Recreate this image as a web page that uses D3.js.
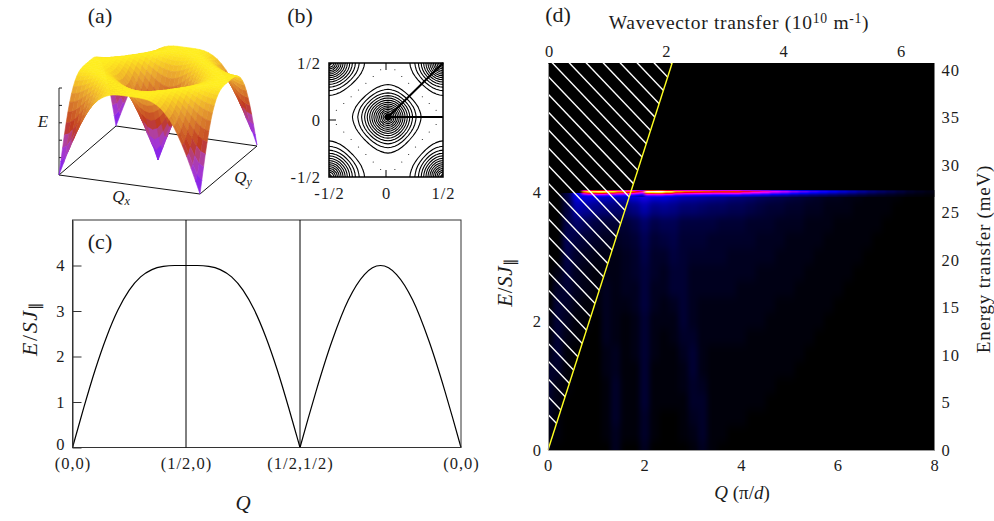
<!DOCTYPE html>
<html>
<head>
<meta charset="utf-8">
<script src="https://cdn.jsdelivr.net/npm/d3@7"></script>
<style>
  html, body { margin: 0; padding: 0; background: #fff; }
  svg { display: block; }
  text { font-family: "Liberation Serif", serif; fill: #1c1c1c; }
  .tick text { font-size: 16.5px; letter-spacing: 1px; font-family: "Liberation Serif", serif; fill: #1c1c1c; }
</style>
</head>
<body>
<svg id="fig" width="994" height="521"></svg>
<script>
// ---- Data ----
// (c) dispersion along the path; t is the position along each leg, 0..1
const pathTicks = [0, 1, 2, 3];
const pathLabels = ['(0,0)', '(1/2,0)', '(1/2,1/2)', '(0,0)'];
const legT = [0, 0.05, 0.1, 0.2, 0.3, 0.4, 0.5, 0.6, 0.7, 0.8, 0.9, 1];
const leg1E = [0, 0.44, 0.88, 1.71, 2.43, 3.02, 3.46, 3.75, 3.91, 3.98, 4.0, 4.0];
const leg2E = [4.0, 4.0, 3.98, 3.91, 3.75, 3.46, 3.02, 2.43, 1.71, 0.88, 0.44, 0];
const leg2T = [0, 0.1, 0.2, 0.3, 0.4, 0.5, 0.6, 0.7, 0.8, 0.9, 0.95, 1];
const leg3T = [0, 0.05, 0.1, 0.2, 0.3, 0.4, 0.45, 0.5, 0.55, 0.6, 0.7, 0.8, 0.9, 0.95, 1];
const leg3E = [0, 0.63, 1.24, 2.35, 3.24, 3.8, 3.95, 4.0, 3.95, 3.8, 3.24, 2.35, 1.24, 0.63, 0];
const cEnergyTicks = [0, 1, 2, 3, 4];

// (a), (b) energy over one quadrant of the zone, mirrored for the other three
const quadrantE = [
  [0,.55,1.09,1.61,2.08,2.51,2.89,3.21,3.46,3.66,3.80,3.90,3.96,3.99,4,4,4],
  [.55,.78,1.22,1.69,2.15,2.56,2.93,3.24,3.49,3.68,3.82,3.91,3.96,3.99,4,4,4],
  [1.09,1.22,1.53,1.92,2.31,2.69,3.03,3.32,3.55,3.73,3.85,3.93,3.98,4,4,4,4],
  [1.61,1.69,1.92,2.22,2.56,2.88,3.18,3.43,3.64,3.79,3.90,3.96,3.99,4,4,3.99,3.99],
  [2.08,2.15,2.31,2.56,2.83,3.10,3.35,3.57,3.74,3.87,3.95,3.99,4,3.99,3.98,3.96,3.96],
  [2.51,2.56,2.69,2.88,3.10,3.33,3.53,3.71,3.84,3.93,3.99,4,3.99,3.96,3.93,3.91,3.90],
  [2.89,2.93,3.03,3.18,3.35,3.53,3.70,3.83,3.93,3.98,4,3.99,3.95,3.90,3.85,3.82,3.80],
  [3.21,3.24,3.32,3.43,3.57,3.71,3.83,3.92,3.98,4,3.98,3.93,3.87,3.79,3.73,3.68,3.66],
  [3.46,3.49,3.55,3.64,3.74,3.84,3.93,3.98,4,3.98,3.93,3.84,3.74,3.64,3.55,3.49,3.46],
  [3.66,3.68,3.73,3.79,3.87,3.93,3.98,4,3.98,3.92,3.83,3.71,3.57,3.43,3.32,3.24,3.21],
  [3.80,3.82,3.85,3.90,3.95,3.99,4,3.98,3.93,3.83,3.70,3.53,3.35,3.18,3.03,2.93,2.89],
  [3.90,3.91,3.93,3.96,3.99,4,3.99,3.93,3.84,3.71,3.53,3.33,3.10,2.88,2.69,2.56,2.51],
  [3.96,3.96,3.98,3.99,4,3.99,3.95,3.87,3.74,3.57,3.35,3.10,2.83,2.56,2.31,2.15,2.08],
  [3.99,3.99,4,4,3.99,3.96,3.90,3.79,3.64,3.43,3.18,2.88,2.56,2.22,1.92,1.69,1.61],
  [4,4,4,4,3.98,3.93,3.85,3.73,3.55,3.32,3.03,2.69,2.31,1.92,1.53,1.22,1.09],
  [4,4,4,3.99,3.96,3.91,3.82,3.68,3.49,3.24,2.93,2.56,2.15,1.69,1.22,.78,.55],
  [4,4,4,3.99,3.96,3.90,3.80,3.66,3.46,3.21,2.89,2.51,2.08,1.61,1.09,.55,0]
];
const contourLevels = [0.25,0.5,0.75,1,1.25,1.5,1.75,2,2.25,2.5,2.75,3,3.25,3.5,3.75];

// (b) axis
const bTicks = [-0.5, 0, 0.5];
const bTickLabels = ['-1/2', '0', '1/2'];

// (d) scattered intensity, 25 = full blue; columns every 0.2 in Q, rows every 0.25 in E.
// Columns left off the end of a row are zero.
const mapQ = d3.range(41).map(i => i * 0.2);
const mapE = [4, 3.75, 3.5, 3.25, 3, 2.75, 2.5, 2.25, 2, 1.75, 1.5, 1.25, 1, 0.75, 0.5, 0.25, 0];
const mapI = [
  [0,0,7,25,25,24,23,22,22,25,28,25,25,22,20,19,18,17,16,14,13,12,10,9,8,7,6,5,4,3,3,2,2,1,1,1,1],
  [0,0,6,17,15,13,12,11,11,13,17,13,14,13,11,11,10,9,9,8,8,7,6,5,5,4,4,3,3,2,2,2,1,1,1,1],
  [0,0,7,10,8,6,5,5,5,7,10,7,8,8,6,6,6,6,5,5,5,4,4,4,3,3,3,2,2,2,1,1,1,1,1],
  [0,0,8,6,5,4,3,3,4,5,8,5,6,7,5,5,5,4,4,4,4,4,3,3,3,2,2,2,2,1,1,1,1,1],
  [0,0,7,4,3,2,2,2,3,4,7,4,4,6,5,4,4,4,4,3,3,3,3,3,2,2,2,2,1,1,1,1,1],
  [0,2,6,3,2,1,2,2,3,4,6,4,3,5,5,3,3,3,3,3,3,3,2,2,2,2,2,1,1,1,1,1],
  [0,4,5,3,2,1,3,2,3,3,6,3,3,5,5,3,3,3,3,3,2,2,2,2,2,2,1,1,1,1,1],
  [0,5,4,2,1,1,3,2,2,3,6,3,2,3,5,3,2,2,2,2,2,2,2,2,1,1,1,1,1,1],
  [1,5,3,1,1,0,3,2,1,2,5,2,2,2,5,3,2,2,2,2,2,2,2,1,1,1,1,1,1],
  [1,5,2,1,0,0,3,2,1,2,5,2,1,2,4,4,2,2,2,2,2,1,1,1,1,1,1,1],
  [2,5,1,0,0,0,2,3,1,2,5,2,1,1,3,5,2,1,1,1,1,1,1,1,1,1,1],
  [4,4,1,0,0,0,2,3,1,1,5,1,1,1,2,5,2,1,1,1,1,1,1,1,1,1],
  [5,2,1,0,0,0,1,4,1,1,5,1,1,1,2,4,3,1,1,1,1,1,1,1],
  [4,2,0,0,0,0,1,4,1,1,5,1,1,1,1,4,4,1,1,1,1,1,1],
  [3,1,0,0,0,0,1,4,1,1,4,1,0,0,1,3,4,1,1,1,1],
  [2,1,0,0,0,0,1,3,1,1,4,1,0,0,1,2,4,1,1],
  [1,0,0,0,0,0,0,3,0,0,3,0,0,0,0,1,3,1]
];
// flat magnon band at E = 4
const bandQ = [0.7,0.8,1,1.2,1.4,1.6,1.8,1.9,2,2.2,2.4,2.6,2.8,3,3.2,3.4,3.6,3.8,4,4.2,4.4,4.6,4.8,5,5.2,5.4,5.6,5.8,6,6.2,6.4,6.6,6.8,7,7.2,7.4,7.6,7.8,8];
const bandI = [78,88,92,86,78,74,66,58,98,100,90,78,74,72,70,68,68,68,62,58,54,48,44,38,34,30,27,24,21,18,15,12,10,8,6,4,3,2,1];
const bandE = [4.03, 4.015, 4, 3.985, 3.97, 3.955, 3.94];
const bandFalloff = [0.7, 1, 0.88, 0.7, 0.52, 0.38, 0.28];
// kinematic limit and hatching
const limitQ = [0, 2.57];
const limitE = [0, 6];
const hatchE = d3.range(29).map(i => 8.28 - i * 0.276);
const hatchSlope = -0.786;

const qTicksD = [0, 2, 4, 6, 8];
const eTicksD = [0, 2, 4];
const wavevectorTicks = [0, 2, 4, 6];
const meVTicks = [0, 5, 10, 15, 20, 25, 30, 35, 40];

// ---- Helpers ----
const svg = d3.select('#fig');
const defs = svg.append('defs');

function label(x, y, parts, size, rotate, spacing) {
  // parts: [text, italic, baselineShift, sizeFactor]
  const t = svg.append('text')
    .attr('text-anchor', 'middle')
    .attr('font-size', size)
    .attr('letter-spacing', spacing || 0)
    .attr('transform', `translate(${x},${y})` + (rotate ? ` rotate(${rotate})` : ''));
  parts.forEach(p => {
    t.append('tspan')
      .attr('font-style', p[1] ? 'italic' : 'normal')
      .attr('dy', p[2] || 0)
      .attr('font-size', p[3] ? size * p[3] : size)
      .text(p[0]);
  });
  return t;
}

function styleAxis(g, color) {
  g.select('.domain').attr('stroke', color || '#555');
  g.selectAll('.tick line').attr('stroke', color || '#555');
}

// ---- (a) surface ----
const fullE = d3.range(33).map(i => d3.range(33).map(j =>
  quadrantE[Math.abs(i - 16)][Math.abs(j - 16)]));

const base = {A: [59, 175], B: [200, 194], C: [257, 146], D: [116, 126]};
const heightPx = d3.scaleLinear().domain([0, 4]).range([0, 88]);
const uScale = d3.scaleLinear().domain([0, 32]).range([0, 1]);

function project(i, j, e) {
  const u = uScale(i), v = uScale(j);
  return [
    base.A[0] + u * (base.B[0] - base.A[0]) + v * (base.D[0] - base.A[0]),
    base.A[1] + u * (base.B[1] - base.A[1]) + v * (base.D[1] - base.A[1]) - heightPx(e)
  ];
}

const surfaceColor = d3.scaleLinear()
  .domain([0, 0.6, 1.4, 2, 2.7, 3.3, 3.6, 3.85, 4])
  .range(['#5a00c8', '#9a30f0', '#b040a0', '#c03a20', '#d4702a', '#e8a230', '#f4c028', '#fcdc22', '#ffee20']);

const gA = svg.append('g');
const baseLine = d3.line();
gA.append('path')
  .attr('d', baseLine([base.A, base.B, base.C, base.D]) + 'Z')
  .attr('fill', 'none').attr('stroke', '#111').attr('stroke-width', 1);

// E axis with its ticks
const eAxisA = d3.scaleLinear().domain([0, 5]).range([175, 88]);
gA.append('line').attr('x1', 59).attr('x2', 59).attr('y1', eAxisA(0)).attr('y2', eAxisA(5)).attr('stroke', '#222');
gA.selectAll('line.etick').data(d3.range(1, 6)).join('line')
  .attr('class', 'etick')
  .attr('x1', 59).attr('x2', 62)
  .attr('y1', d => eAxisA(d)).attr('y2', d => eAxisA(d)).attr('stroke', '#222');

const cells = [];
for (let i = 0; i < 32; i++) {
  for (let j = 0; j < 32; j++) {
    const e = (fullE[i][j] + fullE[i + 1][j] + fullE[i][j + 1] + fullE[i + 1][j + 1]) / 4;
    const depth = project(i + 0.5, j + 0.5, 0)[1];
    cells.push({i, j, e, depth});
  }
}
cells.sort((a, b) => a.depth - b.depth);

gA.selectAll('path.cell').data(cells).join('path')
  .attr('class', 'cell')
  .attr('d', d => baseLine([
    project(d.i, d.j, fullE[d.i][d.j]),
    project(d.i + 1, d.j, fullE[d.i + 1][d.j]),
    project(d.i + 1, d.j + 1, fullE[d.i + 1][d.j + 1]),
    project(d.i, d.j + 1, fullE[d.i][d.j + 1])
  ]) + 'Z')
  .attr('fill', d => surfaceColor(d.e))
  .attr('stroke', d => surfaceColor(d.e))
  .attr('stroke-width', 0.6);

label(100, 23, [['(a)']], 22);
label(43, 127, [['E', true]], 17);
label(121, 202, [['Q', true], ['x', true, 3, 0.72]], 17);
label(243, 183, [['Q', true], ['y', true, 3, 0.72]], 17);

// ---- (b) contours ----
const bX = d3.scaleLinear().domain([-0.5, 0.5]).range([329, 443]);
const bY = d3.scaleLinear().domain([-0.5, 0.5]).range([177, 63]);
const gridX = d3.scaleLinear().domain([0, 16, 32]).range([329, 388, 443]);
const gridY = d3.scaleLinear().domain([0, 16, 32]).range([177, 117, 63]);

defs.append('clipPath').attr('id', 'clip-b').append('rect')
  .attr('x', bX(-0.5)).attr('y', bY(0.5))
  .attr('width', bX(0.5) - bX(-0.5)).attr('height', bY(-0.5) - bY(0.5));

const contourGen = d3.contours().size([33, 33]).thresholds(contourLevels);
const gridPath = d3.geoPath(d3.geoTransform({
  point(x, y) { this.stream.point(gridX(x - 0.5), gridY(y - 0.5)); }
}));
const gB = svg.append('g');
const gBInner = gB.append('g').attr('clip-path', 'url(#clip-b)');
gBInner.selectAll('path').data(contourGen(fullE.flat())).join('path')
  .attr('d', gridPath).attr('fill', 'none').attr('stroke', '#000').attr('stroke-width', 1.1);

// dots follow the E = 4 ridge of the table
const ridge = [];
fullE.forEach((row, i) => row.forEach((e, j) => {
  const onDiamond = Math.abs(i - 16) + Math.abs(j - 16) === 16;
  if (e === 4 && onDiamond && i % 2 === 0 && i > 0 && i < 32 && j > 0 && j < 32) ridge.push([i, j]);
}));
gBInner.selectAll('circle').data(ridge).join('circle')
  .attr('cx', d => gridX(d[0])).attr('cy', d => gridY(d[1])).attr('r', 0.6).attr('fill', '#222');

gB.append('rect')
  .attr('x', bX(-0.5)).attr('y', bY(0.5))
  .attr('width', bX(0.5) - bX(-0.5)).attr('height', bY(-0.5) - bY(0.5))
  .attr('fill', 'none').attr('stroke', '#000').attr('stroke-width', 1.5);

// path of panel (c) drawn heavy
gB.append('path')
  .attr('d', baseLine([[bX(0.5), gridY(32)], [gridX(16), gridY(16)], [bX(0.5), gridY(16)]]))
  .attr('fill', 'none').attr('stroke', '#000').attr('stroke-width', 2);
gB.append('circle').attr('cx', gridX(16)).attr('cy', gridY(16)).attr('r', 3.5).attr('fill', '#000');

const bAxisB = d3.axisBottom(bX).tickValues(bTicks).tickFormat((d, i) => bTickLabels[i]).tickSize(0).tickPadding(10);
const bAxisL = d3.axisLeft(bY).tickValues(bTicks).tickFormat((d, i) => bTickLabels[i]).tickSize(0).tickPadding(8);
gB.append('g').attr('transform', `translate(0,${bY(-0.5)})`).call(bAxisB).call(g => g.select('.domain').remove());
gB.append('g').attr('transform', `translate(${bX(-0.5)},0)`).call(bAxisL).call(g => g.select('.domain').remove());
// inner ticks at the zero lines
[[bX(0), bY(-0.5), bX(0), bY(-0.5) - 7], [bX(0), bY(0.5), bX(0), bY(0.5) + 7],
 [bX(-0.5), bY(0), bX(-0.5) + 7, bY(0)]].forEach(s => {
  gB.append('line').attr('x1', s[0]).attr('y1', s[1]).attr('x2', s[2]).attr('y2', s[3]).attr('stroke', '#000');
});
label(300, 23, [['(b)']], 22);

// ---- (c) dispersion ----
const cX = d3.scaleLinear().domain(pathTicks).range([72.5, 186, 300, 461]);
const cY = d3.scaleLinear().domain([0, 5]).range([447.5, 220]);
const gC = svg.append('g');
const curve = d3.line().x(d => cX(d[0])).y(d => cY(d[1])).curve(d3.curveMonotoneX);

[legT.map((t, i) => [t, leg1E[i]]),
 leg2T.map((t, i) => [1 + t, leg2E[i]]),
 leg3T.map((t, i) => [2 + t, leg3E[i]])].forEach(leg => {
  gC.append('path').attr('d', curve(leg)).attr('fill', 'none').attr('stroke', '#000').attr('stroke-width', 1.2);
});

gC.append('rect').attr('x', cX(0)).attr('y', cY(5))
  .attr('width', cX(3) - cX(0)).attr('height', cY(0) - cY(5))
  .attr('fill', 'none').attr('stroke', '#333').attr('stroke-width', 1);
[1, 2].forEach(t => {
  gC.append('line').attr('x1', cX(t)).attr('x2', cX(t)).attr('y1', cY(5)).attr('y2', cY(0)).attr('stroke', '#000');
});
gC.append('g').attr('transform', `translate(${cX(0)},0)`)
  .call(d3.axisLeft(cY).tickValues(cEnergyTicks).tickFormat(d3.format('d')).tickSize(-9).tickPadding(7).tickSizeOuter(0))
  .call(styleAxis, '#333')
  .call(g => g.selectAll('.tick').filter(d => d === 0).select('text').attr('dy', '0.1em'));
gC.append('g').attr('transform', `translate(0,${cY(0)})`)
  .call(d3.axisBottom(cX).tickValues(pathTicks).tickFormat((d, i) => pathLabels[i]).tickSize(0).tickPadding(10))
  .call(g => g.select('.domain').remove());

label(100, 249, [['(c)']], 22);
label(243, 510, [['Q', true]], 21);
label(37, 328, [['E', true], ['/'], ['SJ', true], ['∥', false, 3, 0.7]], 22, -90, 1.5);

// ---- (d) intensity map ----
const dX = d3.scaleLinear().domain([0, 8]).range([548, 934.5]);
const dY = d3.scaleLinear().domain([0, 6]).range([450, 63]);
const dXTop = d3.scaleLinear().domain([0, 6]).range([549, 901]);
const dYRight = d3.scaleLinear().domain([0, 40]).range([450, 70]);
const heat = d3.scaleLinear()
  .domain([0, 25, 50, 65, 85, 100])
  .range(['#000000', '#0000ff', '#ff00ff', '#ff0000', '#ffff00', '#ffffff']);

const gD = svg.append('g');
defs.append('clipPath').attr('id', 'clip-d').append('rect')
  .attr('x', dX(0)).attr('y', dY(6)).attr('width', dX(8) - dX(0)).attr('height', dY(0) - dY(6));
defs.append('clipPath').attr('id', 'clip-glow').append('rect')
  .attr('x', dX(0)).attr('y', dY(4) + 1).attr('width', dX(8) - dX(0)).attr('height', dY(0) - dY(4) - 1);
const glow = defs.append('filter').attr('id', 'glow').attr('x', '-5%').attr('y', '-5%').attr('width', '110%').attr('height', '110%');
glow.append('feGaussianBlur').attr('stdDeviation', '2.5 4').attr('color-interpolation-filters', 'sRGB');
const smear = defs.append('filter').attr('id', 'smear').attr('x', '-2%').attr('y', '-50%').attr('width', '104%').attr('height', '200%');
smear.append('feGaussianBlur').attr('stdDeviation', '1.5 0.35').attr('color-interpolation-filters', 'sRGB');

gD.append('rect').attr('x', dX(0)).attr('y', dY(6)).attr('width', dX(8) - dX(0)).attr('height', dY(0) - dY(6)).attr('fill', '#000');

const cellW = dX(0.2) - dX(0), cellH = dY(0) - dY(0.25);
const mapCells = mapI.flatMap((row, r) => row.map((v, c) => ({q: mapQ[c], e: mapE[r], v})));
gD.append('g').attr('clip-path', 'url(#clip-glow)')
  .append('g').attr('filter', 'url(#glow)')
  .selectAll('rect').data(mapCells).join('rect')
  .attr('x', d => dX(d.q) - cellW / 2).attr('y', d => dY(d.e) - cellH / 2)
  .attr('width', cellW + 0.5).attr('height', cellH + 0.5)
  .attr('fill', d => heat(d.v));

const bandCells = bandE.flatMap((e, r) => bandQ.slice(0, -1).map((q, i) => ({
  q0: q, q1: bandQ[i + 1], e, v: bandI[i] * bandFalloff[r]
})));
gD.append('g').attr('clip-path', 'url(#clip-d)')
  .append('g').attr('filter', 'url(#smear)')
  .selectAll('rect').data(bandCells).join('rect')
  .attr('x', d => dX(d.q0)).attr('width', d => dX(d.q1) - dX(d.q0) + 0.5)
  .attr('y', d => dY(d.e)).attr('height', dY(0) - dY(0.017))
  .attr('fill', d => heat(d.v));

// hatching left of the kinematic limit
const tri = [[dX(0), dY(0)], [dX(limitQ[1]), dY(limitE[1])], [dX(0), dY(6)]];
defs.append('clipPath').attr('id', 'clip-hatch').append('path').attr('d', baseLine(tri) + 'Z');
gD.append('g').attr('clip-path', 'url(#clip-hatch)')
  .selectAll('line').data(hatchE).join('line')
  .attr('x1', dX(0)).attr('y1', d => dY(d))
  .attr('x2', dX(3)).attr('y2', d => dY(d + hatchSlope * 3))
  .attr('stroke', '#fff').attr('stroke-width', 1.4);
gD.append('line')
  .attr('x1', dX(limitQ[0])).attr('y1', dY(limitE[0]))
  .attr('x2', dX(limitQ[1])).attr('y2', dY(limitE[1]))
  .attr('stroke', '#ffff20').attr('stroke-width', 1.4);

gD.append('g').attr('transform', `translate(0,${dY(0)})`)
  .call(d3.axisBottom(dX).tickValues(qTicksD).tickFormat(d3.format('d')).tickSize(0).tickPadding(9))
  .call(styleAxis, '#999');
gD.append('g').attr('transform', `translate(${dX(0)},0)`)
  .call(d3.axisLeft(dY).tickValues(eTicksD).tickFormat(d3.format('d')).tickSize(0).tickPadding(6))
  .call(styleAxis, '#999');
gD.append('g').attr('transform', `translate(0,${dY(6)})`)
  .call(d3.axisTop(dXTop).tickValues(wavevectorTicks).tickFormat(d3.format('d')).tickSize(0).tickPadding(6))
  .call(g => g.select('.domain').remove());
gD.append('g').attr('transform', `translate(${dX(8)},0)`)
  .call(d3.axisRight(dYRight).tickValues(meVTicks).tickFormat(d3.format('d')).tickSize(0).tickPadding(7))
  .call(g => g.select('.domain').remove());

label(558, 22, [['(d)']], 22);
label(739, 29, [['Wavevector transfer (10'], ['10', false, -6, 0.7], [' m', false, 6], ['-1', false, -6, 0.7], [')', false, 6]], 19.5, 0, 0.7);
label(742, 499, [['Q', true], [' (π/'], ['d', true], [')']], 19);
label(512, 282, [['E', true], ['/'], ['SJ', true], ['∥', false, 3, 0.7]], 21, -90, 0.6);
label(990, 259, [['Energy transfer (meV)']], 19, -90, 0.8);
</script>
</body>
</html>
